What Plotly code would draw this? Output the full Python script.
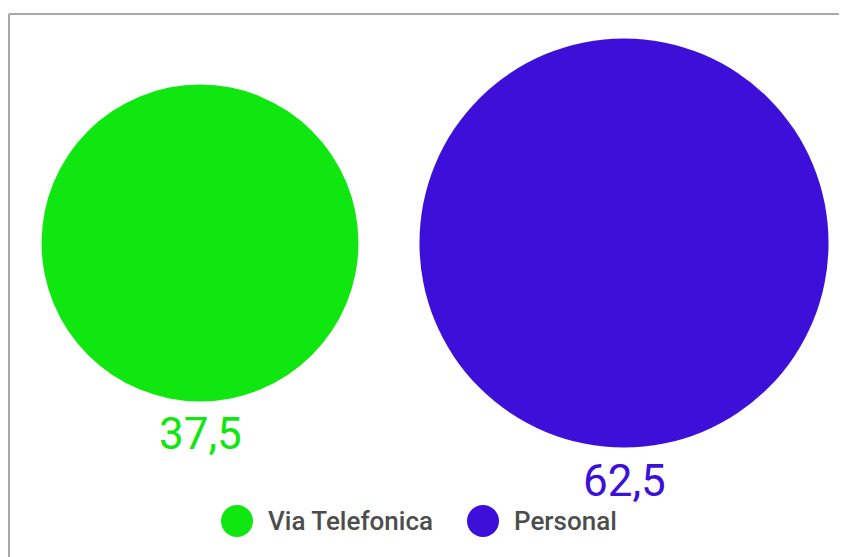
import math
import plotly.graph_objects as go

# ------------------------------------------------
# DATA
# ------------------------------------------------
categories = ["Via Telefonica", "Personal"]
values = [37.5, 62.5]
labels = ["37,5", "62,5"]
colors = ["#10e60f", "#3c10d8"]

# page body has an 8px margin, so the figure is the visible part only
W, H = 839, 549
SIZEREF = 0.000747

fig = go.Figure()

# bubbles, area proportional to value
fig.add_trace(go.Scatter(
    x=categories,
    y=[0] * len(categories),
    mode="markers",
    marker=dict(
        size=values,
        sizemode="area",
        sizeref=SIZEREF,
        color=colors,
        line=dict(width=0),
        opacity=1,
    ),
    hoverinfo="skip",
    showlegend=False,
))

# value labels just under each bubble
for cat, val, lab, col in zip(categories, values, labels, colors):
    r = math.sqrt(val / 2 / SIZEREF)
    fig.add_annotation(
        x=cat, y=0, text=lab, showarrow=False,
        yanchor="top", yshift=-(r + 5),
        font=dict(family="Roboto", size=44, color=col),
    )

# custom legend (bigger markers than plotly's legend allows)
legend_x = [229, 475]
fig.add_trace(go.Scatter(
    x=legend_x,
    y=[0.5] * len(categories),
    xaxis="x2",
    yaxis="y2",
    mode="markers",
    marker=dict(size=32, color=colors, line=dict(width=0)),
    hoverinfo="skip",
    showlegend=False,
))
for name, lx in zip(categories, legend_x):
    fig.add_annotation(
        x=lx + 29, y=0.5, xref="x2", yref="y2",
        text=name, showarrow=False, xanchor="left", yanchor="middle",
        font=dict(family="Roboto", size=26, color="#4d4d4d", weight=500),
    )

# card border (top + left)
fig.add_shape(type="line", xref="paper", yref="paper",
              x0=1 / W, x1=1, y0=1 - 6 / H, y1=1 - 6 / H,
              line=dict(color="#a8a8a8", width=2))
fig.add_shape(type="line", xref="paper", yref="paper",
              x0=1 / W, x1=1 / W, y0=0, y1=1 - 6 / H,
              line=dict(color="#a8a8a8", width=2))

fig.update_layout(
    width=W,
    height=H,
    margin=dict(l=0, r=0, t=0, b=0),
    paper_bgcolor="white",
    plot_bgcolor="rgba(0,0,0,0)",
    xaxis=dict(type="category", range=[-192 / 424, -192 / 424 + W / 424],
               visible=False, fixedrange=True),
    yaxis=dict(range=[-(H - 235) / H, 235 / H], visible=False, fixedrange=True),
    xaxis2=dict(range=[0, W], domain=[0, 1], anchor="y2", visible=False,
                fixedrange=True),
    yaxis2=dict(range=[0, 1], domain=[0, 72 / H], anchor="x2",
                visible=False, fixedrange=True),
)

fig.write_html("out.html")
